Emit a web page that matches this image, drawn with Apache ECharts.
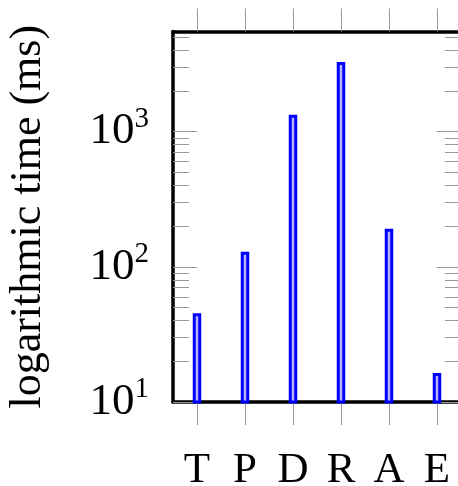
<!DOCTYPE html>
<html>
<head>
<meta charset="utf-8">
<script src="https://cdn.jsdelivr.net/npm/echarts@6/dist/echarts.min.js"></script>
<style>
  html, body { margin: 0; padding: 0; background: #fff; }
  #main { width: 458px; height: 486px; }
</style>
</head>
<body>
<div id="main"></div>
<script>
// data
var categories = ['T', 'P', 'D', 'R', 'A', 'E'];
var times = [45.4, 129, 1330, 3270, 191, 16.4];
var majorTicks = [10, 100, 1000];
var minorTicks = [20, 30, 40, 50, 60, 70, 80, 90,
                  200, 300, 400, 500, 600, 700, 800, 900,
                  2000, 3000, 4000, 5000];
var yMin = 10;
var yMax = 5500;
var yName = 'logarithmic time (ms)';

var serif = 'Liberation Serif';
var tickGray = '#999';

var chart = echarts.init(document.getElementById('main'));

function logAxis(pos, ticks, len, showLine, showLabel) {
  return {
    type: 'log',
    logBase: 10,
    min: yMin,
    max: yMax,
    position: pos,
    axisLine: { show: showLine, lineStyle: { color: '#000', width: 3.5 } },
    axisTick: {
      show: true,
      inside: true,
      length: len,
      customValues: ticks,
      lineStyle: { color: tickGray, width: 1 }
    },
    axisLabel: {
      show: showLabel,
      customValues: ticks,
      margin: 24,
      formatter: function (v) {
        return '{b|10}{s|' + Math.round(Math.log10(v)) + '}';
      },
      rich: {
        b: { fontFamily: serif, fontSize: 45, color: '#000' },
        s: { fontFamily: serif, fontSize: 29, color: '#000', padding: [0, 0, 25, 0] }
      }
    },
    splitLine: { show: false },
    minorTick: { show: false }
  };
}

var yLeft = logAxis('left', majorTicks, 24, true, true);
yLeft.name = yName;
yLeft.nameLocation = 'middle';
yLeft.nameGap = 123;
yLeft.nameTextStyle = { fontFamily: serif, fontSize: 44, color: '#000' };

function catAxis(pos, showLabel) {
  return {
    type: 'category',
    data: categories,
    position: pos,
    axisLine: { show: true, onZero: false, lineStyle: { color: '#000', width: 3.5 } },
    axisTick: { show: true, alignWithLabel: true, length: 23, lineStyle: { color: tickGray, width: 1 } },
    axisLabel: { show: showLabel, fontFamily: serif, fontSize: 43, color: '#000', margin: 47 },
    splitLine: { show: false }
  };
}

var option = {
  animation: false,
  grid: { left: 173, right: -3, top: 31.5, bottom: 84, outerBoundsMode: 'none', containLabel: false },
  xAxis: [catAxis('bottom', true), catAxis('top', false)],
  yAxis: [
    yLeft,
    logAxis('left', minorTicks, 16, false, false),
    logAxis('right', majorTicks, 24, true, false),
    logAxis('right', minorTicks, 16, false, false)
  ],
  series: [
    {
      type: 'bar',
      data: times,
      xAxisIndex: 0,
      yAxisIndex: 0,
      barWidth: 8.5,
      clip: true,
      itemStyle: { color: '#b3b3ff', borderColor: '#0000ff', borderWidth: 3 }
    }
  ]
};
chart.setOption(option);
</script>
</body>
</html>
